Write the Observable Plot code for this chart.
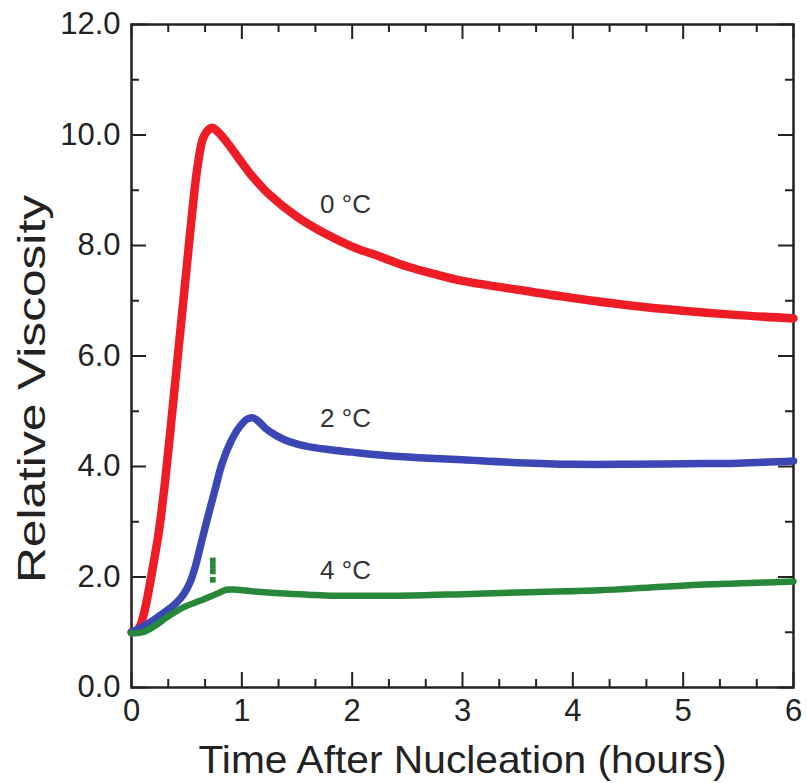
<!DOCTYPE html>
<html><head><meta charset="utf-8">
<script src="https://cdn.jsdelivr.net/npm/d3@7"></script>
<script src="https://cdn.jsdelivr.net/npm/@observablehq/plot@0.6"></script>
<style>
body{margin:0;background:#fff}
#chart svg{font-family:'Liberation Sans', Arial, sans-serif}
</style>
</head><body><div id="chart"></div>
<script>
// ---- data ----
const xMajor = [0, 1, 2, 3, 4, 5, 6];
const xMinor = [0.333, 0.667, 1.333, 1.667, 2.333, 2.667, 3.333, 3.667, 4.333, 4.667, 5.333, 5.667];
const yMajor = [0, 2, 4, 6, 8, 10, 12];
const yMinor = [1, 3, 5, 7, 9, 11];

const redT = [0, 0.05, 0.08, 0.12, 0.16, 0.2, 0.25, 0.3, 0.35, 0.4, 0.45, 0.5, 0.55, 0.6, 0.65, 0.7, 0.73, 0.77, 0.84, 0.92, 1.0, 1.1, 1.25, 1.5, 1.75, 2.0, 2.25, 2.5, 2.75, 3.0, 3.5, 4.0, 4.5, 5.0, 5.5, 6.0];
const redV = [1.0, 1.03, 1.12, 1.4, 1.8, 2.25, 2.85, 3.65, 4.6, 5.6, 6.6, 7.6, 8.6, 9.45, 9.95, 10.1, 10.13, 10.08, 9.93, 9.72, 9.5, 9.24, 8.92, 8.52, 8.22, 7.98, 7.8, 7.62, 7.48, 7.36, 7.2, 7.05, 6.92, 6.82, 6.74, 6.68];

const blueT = [0, 0.1, 0.2, 0.3, 0.4, 0.47, 0.53, 0.58, 0.63, 0.7, 0.76, 0.82, 0.9, 0.98, 1.05, 1.1, 1.15, 1.22, 1.32, 1.43, 1.6, 1.82, 2.0, 2.3, 2.6, 3.0, 3.5, 4.0, 4.5, 5.0, 5.5, 6.0];
const blueV = [1.0, 1.1, 1.22, 1.36, 1.52, 1.68, 1.9, 2.2, 2.6, 3.15, 3.6, 4.05, 4.45, 4.72, 4.86, 4.88, 4.82, 4.68, 4.55, 4.45, 4.36, 4.3, 4.26, 4.2, 4.16, 4.12, 4.07, 4.04, 4.04, 4.05, 4.06, 4.1];

const greenT = [0, 0.1, 0.2, 0.32, 0.47, 0.62, 0.72, 0.8, 0.86, 0.95, 1.1, 1.3, 1.6, 1.82, 2.1, 2.43, 3.0, 3.5, 4.24, 4.7, 5.14, 5.6, 6.0];
const greenV = [0.98, 1.0, 1.1, 1.27, 1.45, 1.57, 1.65, 1.72, 1.77, 1.77, 1.74, 1.71, 1.68, 1.66, 1.66, 1.66, 1.69, 1.72, 1.76, 1.81, 1.86, 1.89, 1.92];

const spikeT = [0.737, 0.737, 0.737, 0.737];
const spikeV = [2.3, 2.2, 2.1, 1.95];

const labelText = ["0 °C", "2 °C", "4 °C"];
const labelT = [1.94, 1.94, 1.94];
const labelV = [8.74, 4.87, 2.12];

const xTitle = "Time After Nucleation (hours)";
const yTitle = "Relative Viscosity";

// ---- tables ----
const toRows = (T, V) => T.map((t, i) => ({t, v: V[i]}));
const red = toRows(redT, redV);
const blue = toRows(blueT, blueV);
const green = toRows(greenT, greenV);
const spike = toRows(spikeT, spikeV);
const labels = labelText.map((s, i) => ({s, t: labelT[i], v: labelV[i]}));

const W = 807, H = 783;
const mL = 131, mR = 14, mT = 24, mB = 96;
const iW = W - mL - mR, iH = H - mT - mB;
const xDom = [0, 6], yDom = [0, 12];
const ink = "#222";
// tick lengths (pixels) converted to data units
const lx = px => px * (xDom[1] - xDom[0]) / iW;
const ly = px => px * (yDom[1] - yDom[0]) / iH;

const chart = Plot.plot({
  width: W, height: H,
  marginLeft: mL, marginRight: mR, marginTop: mT, marginBottom: mB,
  x: {domain: xDom},
  y: {domain: yDom},
  marks: [
    // ticks (inward, all four sides) and the box
    Plot.ruleX(xMajor, {x: d => d, y1: yDom[0], y2: yDom[0] + ly(15), stroke: ink, strokeWidth: 2}),
    Plot.ruleX(xMajor, {x: d => d, y1: yDom[1], y2: yDom[1] - ly(15), stroke: ink, strokeWidth: 2}),
    Plot.ruleX(xMinor, {x: d => d, y1: yDom[0], y2: yDom[0] + ly(8), stroke: ink, strokeWidth: 2}),
    Plot.ruleX(xMinor, {x: d => d, y1: yDom[1], y2: yDom[1] - ly(8), stroke: ink, strokeWidth: 2}),
    Plot.ruleY(yMajor, {y: d => d, x1: xDom[0], x2: xDom[0] + lx(15), stroke: ink, strokeWidth: 2}),
    Plot.ruleY(yMajor, {y: d => d, x1: xDom[1], x2: xDom[1] - lx(15), stroke: ink, strokeWidth: 2}),
    Plot.ruleY(yMinor, {y: d => d, x1: xDom[0], x2: xDom[0] + lx(8), stroke: ink, strokeWidth: 2}),
    Plot.ruleY(yMinor, {y: d => d, x1: xDom[1], x2: xDom[1] - lx(8), stroke: ink, strokeWidth: 2}),
    Plot.frame({stroke: ink, strokeWidth: 2.5}),
    // curves
    Plot.line(red, {x: "t", y: "v", stroke: "#ee1c24", strokeWidth: 8.5, curve: "catmull-rom"}),
    Plot.line(blue, {x: "t", y: "v", stroke: "#3b47b5", strokeWidth: 7.5, curve: "catmull-rom"}),
    Plot.line(green, {x: "t", y: "v", stroke: "#27883a", strokeWidth: 6.5, curve: "catmull-rom"}),
    Plot.dot(spike, {x: "t", y: "v", symbol: "square", r: 3.2, fill: "#27883a"}),
    Plot.text(labels, {x: "t", y: "v", text: "s", fontSize: 26, fill: "#333", lineAnchor: "middle"}),
    // axes
    Plot.axisX(xMajor, {anchor: "bottom", tickSize: 0, tickPadding: 11, label: null, fontSize: 31, fill: ink}),
    Plot.axisY(yMajor, {anchor: "left", tickSize: 0, tickPadding: 11, label: null, tickFormat: d3.format(".1f"), fontSize: 31, fill: ink}),
    Plot.text([xTitle], {frameAnchor: "bottom", dy: 58, lineAnchor: "top", fontSize: 39, fill: ink}),
    Plot.text([yTitle], {frameAnchor: "left", dx: -113, dy: 227, rotate: -90, textAnchor: "start", lineAnchor: "top", fontSize: 38, fill: ink})
  ]
});
document.getElementById("chart").appendChild(chart);
// stretch the titles to the length they have in the reference
chart.querySelectorAll("text").forEach(el => {
  if (el.textContent === yTitle) { el.setAttribute("textLength", 388); el.setAttribute("lengthAdjust", "spacingAndGlyphs"); }
  if (el.textContent === xTitle) { el.setAttribute("textLength", 528); el.setAttribute("lengthAdjust", "spacingAndGlyphs"); }
});
</script></body></html>
